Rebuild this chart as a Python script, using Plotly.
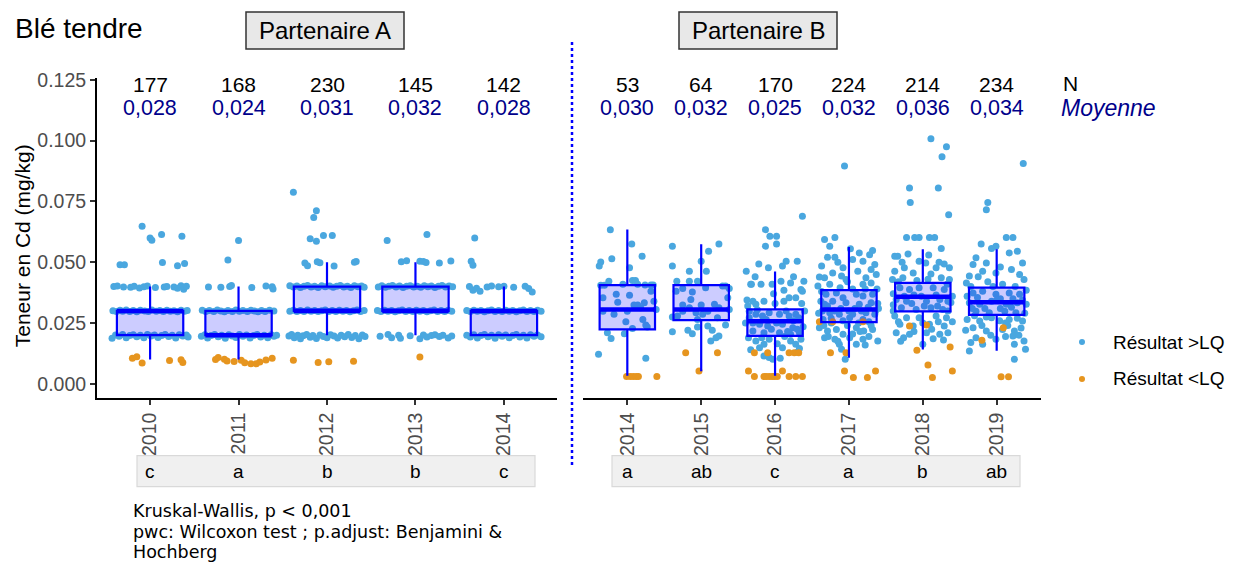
import plotly.graph_objects as go

W, H = 1234, 562
# the screenshot places page row p at about 7 + 0.987 * p; targets below are screen pixels
SHOT_TOP, SHOT_SCALE = 7.0, 0.9869

# ---- data ----
years_a = ["2010", "2011", "2012", "2013", "2014"]
years_b = ["2014", "2015", "2016", "2017", "2018", "2019"]
n_a = [177, 168, 230, 145, 142]
n_b = [53, 64, 170, 224, 214, 234]
mean_a = [0.028, 0.024, 0.031, 0.032, 0.028]
mean_b = [0.030, 0.032, 0.025, 0.032, 0.036, 0.034]
letters_a = ["c", "a", "b", "b", "c"]
letters_b = ["a", "ab", "c", "a", "b", "ab"]
caption_lines = ["Kruskal-Wallis, p < 0,001",
                 "pwc: Wilcoxon test ; p.adjust: Benjamini &",
                 "Hochberg"]

# box statistics (mg/kg)
q1_a = [0.020, 0.020, 0.030, 0.030, 0.020]
med_a = [0.030, 0.020, 0.030, 0.030, 0.030]
q3_a = [0.030, 0.030, 0.040, 0.040, 0.030]
lo_a = [0.010, 0.010, 0.020, 0.020, 0.020]
hi_a = [0.040, 0.040, 0.050, 0.050, 0.040]

q1_b = [0.0224, 0.0262, 0.0197, 0.0254, 0.0298, 0.0284]
med_b = [0.0306, 0.0306, 0.0257, 0.0306, 0.0358, 0.0336]
q3_b = [0.0406, 0.0406, 0.0306, 0.0385, 0.0415, 0.0396]
lo_b = [0.0033, 0.0052, 0.0033, 0.0107, 0.0141, 0.0136]
hi_b = [0.0635, 0.0574, 0.0462, 0.0563, 0.0553, 0.0553]

# individual results: (jitter offset from the year, value)
A2010_sup = [(-0.09, 0.0648), (0.0, 0.0600), (0.02, 0.0590), (0.13, 0.0614), (0.36, 0.0607),
             (-0.34, 0.0490), (-0.29, 0.0490), (0.14, 0.0499), (0.31, 0.0486), (0.39, 0.0495),
             (-0.41, 0.0400), (-0.37, 0.0402), (-0.30, 0.0398), (-0.22, 0.0397), (-0.18, 0.0401),
             (-0.12, 0.0394), (-0.07, 0.0399), (-0.03, 0.0402), (0.06, 0.0396), (0.16, 0.0398),
             (0.19, 0.0400), (0.27, 0.0398), (0.31, 0.0393), (0.35, 0.0403), (0.38, 0.0389), (0.41, 0.0401),
             (-0.42, 0.0301), (-0.38, 0.0297), (-0.34, 0.0303), (-0.31, 0.0299), (-0.27, 0.0304),
             (-0.23, 0.0298), (-0.19, 0.0302), (-0.15, 0.0296), (-0.11, 0.0303), (-0.06, 0.0300),
             (-0.02, 0.0297), (0.02, 0.0304), (0.07, 0.0299), (0.11, 0.0302), (0.15, 0.0297),
             (0.19, 0.0303), (0.23, 0.0299), (0.27, 0.0301), (0.31, 0.0296), (0.35, 0.0303),
             (0.39, 0.0299), (0.42, 0.0302),
             (-0.43, 0.0188), (-0.39, 0.0201), (-0.35, 0.0196), (-0.31, 0.0203), (-0.27, 0.0190),
             (-0.23, 0.0199), (-0.19, 0.0202), (-0.15, 0.0194), (-0.11, 0.0200), (-0.07, 0.0190),
             (-0.03, 0.0203), (0.01, 0.0197), (0.05, 0.0201), (0.09, 0.0191), (0.13, 0.0199),
             (0.17, 0.0203), (0.21, 0.0195), (0.25, 0.0200), (0.29, 0.0189), (0.33, 0.0202),
             (0.37, 0.0197), (0.41, 0.0201), (0.43, 0.0193)]
A2010_inf = [(-0.20, 0.0105), (-0.15, 0.0112), (-0.09, 0.0086), (0.22, 0.0096), (0.35, 0.0099), (0.37, 0.0088)]

A2011_sup = [(0.0, 0.0589), (-0.12, 0.0509),
             (-0.34, 0.0398), (-0.20, 0.0397), (-0.10, 0.0400), (-0.08, 0.0404), (0.15, 0.0396),
             (0.31, 0.0402), (0.38, 0.0399), (0.39, 0.0390),
             (-0.41, 0.0303), (-0.37, 0.0298), (-0.33, 0.0302), (-0.28, 0.0297), (-0.24, 0.0304),
             (-0.20, 0.0300), (-0.16, 0.0296), (-0.12, 0.0302), (-0.07, 0.0298), (-0.03, 0.0304),
             (0.01, 0.0299), (0.05, 0.0302), (0.10, 0.0297), (0.14, 0.0303), (0.18, 0.0300),
             (0.22, 0.0296), (0.26, 0.0302), (0.30, 0.0298), (0.35, 0.0303), (0.40, 0.0300),
             (-0.42, 0.0196), (-0.38, 0.0202), (-0.35, 0.0189), (-0.31, 0.0199), (-0.27, 0.0203),
             (-0.23, 0.0194), (-0.19, 0.0200), (-0.15, 0.0188), (-0.11, 0.0202), (-0.07, 0.0197),
             (-0.03, 0.0191), (0.01, 0.0203), (0.05, 0.0196), (0.09, 0.0201), (0.13, 0.0189),
             (0.17, 0.0199), (0.21, 0.0203), (0.25, 0.0193), (0.29, 0.0200), (0.33, 0.0190),
             (0.37, 0.0202), (0.40, 0.0196), (0.43, 0.0200)]
A2011_inf = [(-0.26, 0.0100), (-0.23, 0.0108), (-0.16, 0.0101), (-0.13, 0.0094), (-0.05, 0.0092),
             (0.03, 0.0097), (0.07, 0.0087), (0.14, 0.0083), (0.20, 0.0083), (0.24, 0.0090),
             (0.31, 0.0098), (0.38, 0.0105)]

A2012_sup = [(-0.38, 0.0788), (-0.12, 0.0712), (-0.15, 0.0684), (-0.19, 0.0597), (-0.12, 0.0586),
             (-0.04, 0.0610), (0.06, 0.0610),
             (-0.25, 0.0497), (-0.22, 0.0486), (-0.11, 0.0502), (-0.08, 0.0498), (0.08, 0.0484),
             (0.31, 0.0500), (0.33, 0.0503),
             (-0.42, 0.0403), (-0.38, 0.0398), (-0.34, 0.0402), (-0.30, 0.0396), (-0.26, 0.0401),
             (-0.22, 0.0404), (-0.18, 0.0398), (-0.14, 0.0401), (-0.10, 0.0396), (-0.06, 0.0403),
             (-0.02, 0.0399), (0.03, 0.0402), (0.07, 0.0397), (0.11, 0.0401), (0.15, 0.0404),
             (0.19, 0.0398), (0.23, 0.0401), (0.27, 0.0396), (0.31, 0.0403), (0.35, 0.0399),
             (0.39, 0.0402), (0.42, 0.0397),
             (-0.42, 0.0299), (-0.38, 0.0303), (-0.34, 0.0297), (-0.30, 0.0302), (-0.26, 0.0298),
             (-0.22, 0.0304), (-0.18, 0.0299), (-0.14, 0.0302), (-0.10, 0.0297), (-0.06, 0.0301),
             (-0.02, 0.0304), (0.02, 0.0298), (0.06, 0.0302), (0.10, 0.0297), (0.14, 0.0303),
             (0.18, 0.0299), (0.22, 0.0302), (0.26, 0.0296), (0.30, 0.0301), (0.34, 0.0304),
             (0.38, 0.0298), (0.42, 0.0302),
             (-0.43, 0.0197), (-0.40, 0.0203), (-0.37, 0.0190), (-0.33, 0.0200), (-0.30, 0.0186),
             (-0.27, 0.0198), (-0.23, 0.0203), (-0.19, 0.0192), (-0.16, 0.0199), (-0.12, 0.0187),
             (-0.08, 0.0201), (-0.04, 0.0195), (0.0, 0.0190), (0.04, 0.0202), (0.08, 0.0197),
             (0.12, 0.0189), (0.16, 0.0200), (0.20, 0.0194), (0.24, 0.0203), (0.28, 0.0191),
             (0.32, 0.0199), (0.36, 0.0186), (0.40, 0.0201), (0.43, 0.0195)]
A2012_inf = [(-0.38, 0.0097), (-0.10, 0.0088), (0.02, 0.0091), (0.30, 0.0093)]

A2013_sup = [(-0.32, 0.0589), (0.13, 0.0614),
             (-0.16, 0.0502), (-0.10, 0.0506), (0.05, 0.0504), (0.09, 0.0503), (0.12, 0.0499),
             (0.27, 0.0497), (0.40, 0.0505),
             (-0.42, 0.0398), (-0.38, 0.0403), (-0.34, 0.0397), (-0.30, 0.0401), (-0.26, 0.0404),
             (-0.22, 0.0398), (-0.18, 0.0402), (-0.14, 0.0396), (-0.10, 0.0401), (-0.06, 0.0403),
             (-0.02, 0.0398), (0.02, 0.0401), (0.06, 0.0397), (0.10, 0.0403), (0.14, 0.0399),
             (0.18, 0.0402), (0.22, 0.0396), (0.26, 0.0401), (0.30, 0.0404), (0.34, 0.0398),
             (0.38, 0.0402), (0.42, 0.0399),
             (-0.43, 0.0302), (-0.39, 0.0297), (-0.35, 0.0303), (-0.31, 0.0299), (-0.27, 0.0302),
             (-0.23, 0.0296), (-0.19, 0.0301), (-0.15, 0.0304), (-0.11, 0.0298), (-0.07, 0.0302),
             (-0.03, 0.0297), (0.01, 0.0303), (0.05, 0.0299), (0.09, 0.0302), (0.13, 0.0296),
             (0.17, 0.0301), (0.21, 0.0304), (0.25, 0.0298), (0.29, 0.0302), (0.33, 0.0297),
             (0.37, 0.0303), (0.41, 0.0299),
             (-0.40, 0.0196), (-0.31, 0.0203), (-0.27, 0.0190), (-0.19, 0.0200), (-0.17, 0.0188),
             (-0.06, 0.0198), (0.05, 0.0186), (0.09, 0.0201), (0.13, 0.0193), (0.18, 0.0199),
             (0.22, 0.0202), (0.27, 0.0195), (0.31, 0.0200), (0.37, 0.0189), (0.41, 0.0197)]
A2013_inf = [(0.05, 0.0111)]

A2014_sup = [(-0.33, 0.0600), (-0.37, 0.0504), (-0.35, 0.0488),
             (-0.39, 0.0400), (-0.35, 0.0385), (-0.31, 0.0393), (-0.27, 0.0381), (-0.19, 0.0398),
             (-0.14, 0.0402), (-0.06, 0.0399), (0.0, 0.0401), (0.11, 0.0397), (0.24, 0.0401),
             (0.28, 0.0392), (0.32, 0.0378),
             (-0.42, 0.0302), (-0.38, 0.0297), (-0.34, 0.0303), (-0.30, 0.0299), (-0.26, 0.0302),
             (-0.22, 0.0296), (-0.18, 0.0301), (-0.14, 0.0304), (-0.10, 0.0298), (-0.06, 0.0302),
             (-0.02, 0.0297), (0.02, 0.0303), (0.06, 0.0299), (0.10, 0.0302), (0.14, 0.0296),
             (0.18, 0.0301), (0.22, 0.0304), (0.26, 0.0298), (0.30, 0.0302), (0.34, 0.0297),
             (0.38, 0.0303), (0.42, 0.0299),
             (-0.42, 0.0200), (-0.38, 0.0193), (-0.34, 0.0202), (-0.30, 0.0189), (-0.26, 0.0199),
             (-0.22, 0.0203), (-0.18, 0.0194), (-0.14, 0.0200), (-0.10, 0.0188), (-0.06, 0.0202),
             (-0.02, 0.0196), (0.02, 0.0201), (0.06, 0.0190), (0.10, 0.0199), (0.14, 0.0203),
             (0.18, 0.0193), (0.22, 0.0200), (0.26, 0.0189), (0.30, 0.0202), (0.34, 0.0196),
             (0.38, 0.0201), (0.42, 0.0194)]
A2014_inf = []

B2014_sup = [(-0.23, 0.0634), (0.06, 0.0575), (0.20, 0.0525), (-0.36, 0.0501), (-0.38, 0.0484),
             (-0.21, 0.0514), (0.03, 0.0477), (-0.25, 0.0422), (0.07, 0.0425), (0.11, 0.0425),
             (0.24, 0.0406), (0.32, 0.0406), (0.35, 0.0406), (-0.36, 0.0405), (-0.31, 0.0405),
             (0.32, 0.0381), (0.03, 0.0364), (-0.13, 0.0336), (0.23, 0.0333), (0.09, 0.0324),
             (0.14, 0.0324), (0.39, 0.0306), (-0.18, 0.0286), (0.0, 0.0299), (0.18, 0.0313),
             (-0.02, 0.0255), (0.25, 0.0242), (0.27, 0.0234), (0.07, 0.0228), (-0.27, 0.0210),
             (-0.04, 0.0206), (-0.22, 0.0187), (-0.39, 0.0122), (0.25, 0.0105),
             (-0.33, 0.0299), (-0.15, 0.0368), (0.21, 0.0265), (0.36, 0.0340), (-0.33, 0.0354),
             (-0.06, 0.0409), (0.14, 0.0409)]
B2014_inf = [(-0.01, 0.0030), (0.04, 0.0030), (0.08, 0.0030), (0.12, 0.0030), (0.15, 0.0030), (0.40, 0.0030)]

B2015_sup = [(-0.39, 0.0566), (0.24, 0.0575), (0.10, 0.0545), (-0.39, 0.0484), (-0.16, 0.0463),
             (0.0, 0.0504), (0.07, 0.0463), (-0.33, 0.0422), (-0.16, 0.0422), (-0.05, 0.0422),
             (0.29, 0.0402), (0.33, 0.0402), (-0.34, 0.0381), (-0.12, 0.0378), (0.06, 0.0395),
             (-0.14, 0.0347), (0.36, 0.0354), (-0.25, 0.0324), (0.0, 0.0324), (0.18, 0.0327),
             (0.24, 0.0313), (-0.32, 0.0279), (-0.07, 0.0292), (0.02, 0.0286), (0.38, 0.0306),
             (-0.39, 0.0275), (-0.05, 0.0234), (0.09, 0.0238), (0.15, 0.0220), (-0.18, 0.0220),
             (-0.39, 0.0214), (-0.12, 0.0206), (0.24, 0.0197), (0.20, 0.0190), (0.13, 0.0176),
             (0.33, 0.0242), (-0.05, 0.0265),
             (-0.25, 0.0392), (0.38, 0.0392), (-0.16, 0.0313), (0.09, 0.0299), (0.22, 0.0272),
             (-0.25, 0.0299)]
B2015_inf = [(-0.21, 0.0128), (0.22, 0.0128), (-0.03, 0.0053)]

B2016_sup = [(0.37, 0.0689), (-0.13, 0.0634), (-0.07, 0.0607), (0.02, 0.0607), (-0.13, 0.0566),
             (0.02, 0.0575), (-0.22, 0.0493), (-0.39, 0.0463), (-0.09, 0.0477), (0.15, 0.0504),
             (0.10, 0.0484), (0.30, 0.0504), (-0.32, 0.0409), (-0.19, 0.0409), (-0.04, 0.0409),
             (0.08, 0.0422), (0.21, 0.0415), (0.35, 0.0388), (0.39, 0.0422), (-0.30, 0.0340),
             (-0.26, 0.0327), (-0.15, 0.0340), (0.12, 0.0340), (0.19, 0.0354), (0.28, 0.0354),
             (0.37, 0.0381), (-0.35, 0.0299), (-0.35, 0.0272), (0.32, 0.0272),
             (-0.26, 0.0286), (-0.17, 0.0279), (-0.08, 0.0292), (0.06, 0.0286), (0.19, 0.0279),
             (0.28, 0.0286), (-0.21, 0.0245), (-0.10, 0.0238), (0.10, 0.0245), (0.24, 0.0231),
             (-0.30, 0.0217), (-0.15, 0.0210), (0.06, 0.0210), (0.21, 0.0204), (0.33, 0.0210),
             (-0.26, 0.0176), (-0.15, 0.0163), (-0.08, 0.0183), (0.21, 0.0176), (0.28, 0.0163),
             (0.35, 0.0183), (-0.21, 0.0149), (0.10, 0.0149), (-0.15, 0.0115), (-0.08, 0.0108),
             (0.07, 0.0105), (-0.03, 0.0101),
             (-0.37, 0.0320), (0.40, 0.0300), (-0.40, 0.0250), (0.38, 0.0235), (-0.36, 0.0190),
             (0.30, 0.0130), (-0.33, 0.0140), (0.0, 0.0330),
             (-0.38, 0.0345), (-0.24, 0.0305), (-0.12, 0.0265), (0.02, 0.0250), (0.15, 0.0300),
             (0.25, 0.0260), (0.36, 0.0330), (-0.30, 0.0250), (-0.05, 0.0225), (0.13, 0.0195),
             (0.30, 0.0225), (-0.18, 0.0190), (0.03, 0.0165), (0.17, 0.0215), (-0.33, 0.0410),
             (0.25, 0.0440), (-0.02, 0.0370), (0.12, 0.0385), (-0.27, 0.0440), (0.33, 0.0145)]
B2016_inf = [(-0.28, 0.0128), (-0.10, 0.0128), (0.19, 0.0128), (0.26, 0.0128), (0.32, 0.0128),
             (-0.36, 0.0053), (0.10, 0.0053),
             (-0.28, 0.0030), (-0.15, 0.0030), (-0.12, 0.0030), (-0.08, 0.0030), (-0.04, 0.0030),
             (-0.01, 0.0030), (0.03, 0.0030), (0.19, 0.0030), (0.28, 0.0030), (0.37, 0.0030)]

B2017_sup = [(-0.06, 0.0896), (-0.33, 0.0593), (-0.19, 0.0602), (-0.26, 0.0566), (0.32, 0.0548),
             (0.28, 0.0531), (0.14, 0.0538), (-0.29, 0.0520), (-0.19, 0.0520), (-0.37, 0.0484),
             (0.05, 0.0511), (0.35, 0.0491), (0.19, 0.0504), (-0.08, 0.0477), (0.12, 0.0463),
             (-0.22, 0.0456), (-0.40, 0.0439), (-0.33, 0.0436), (-0.10, 0.0443), (-0.04, 0.0429),
             (0.23, 0.0436), (0.37, 0.0450), (0.30, 0.0415), (0.19, 0.0409), (-0.26, 0.0409),
             (-0.42, 0.0402),
             (-0.31, 0.0368), (-0.17, 0.0374), (-0.08, 0.0354), (0.10, 0.0368), (0.19, 0.0361),
             (0.32, 0.0368), (-0.33, 0.0327), (-0.22, 0.0340), (-0.04, 0.0333), (0.14, 0.0327),
             (0.30, 0.0333), (-0.26, 0.0292), (-0.13, 0.0286), (0.05, 0.0286), (0.23, 0.0292),
             (0.35, 0.0286), (-0.35, 0.0265), (0.01, 0.0272), (0.19, 0.0265),
             (-0.40, 0.0231), (-0.29, 0.0217), (-0.17, 0.0224), (-0.08, 0.0204), (0.10, 0.0231),
             (0.20, 0.0217), (0.32, 0.0224), (-0.33, 0.0190), (-0.19, 0.0183), (0.01, 0.0190),
             (0.19, 0.0183), (0.39, 0.0176), (-0.13, 0.0163), (0.10, 0.0163),
             (-0.10, 0.0142), (-0.05, 0.0101),
             (-0.38, 0.0340), (0.40, 0.0310), (-0.12, 0.0395), (0.05, 0.0390), (0.27, 0.0255),
             (-0.24, 0.0250), (0.38, 0.0390), (-0.41, 0.0290),
             (-0.36, 0.0300), (-0.29, 0.0320), (-0.20, 0.0300), (-0.11, 0.0310), (0.0, 0.0300),
             (0.08, 0.0310), (0.17, 0.0300), (0.26, 0.0315), (0.36, 0.0300), (-0.34, 0.0240),
             (-0.24, 0.0270), (-0.02, 0.0240), (0.13, 0.0250), (0.30, 0.0240), (-0.28, 0.0195),
             (0.05, 0.0205), (0.27, 0.0195), (-0.15, 0.0175), (0.22, 0.0160), (-0.37, 0.0380),
             (0.22, 0.0390), (-0.02, 0.0420), (0.30, 0.0470), (-0.15, 0.0500), (0.02, 0.0555),
             (0.39, 0.0330), (-0.08, 0.0260), (0.15, 0.0215)]
B2017_inf = [(-0.40, 0.0255), (-0.22, 0.0255), (0.19, 0.0255), (-0.25, 0.0128), (-0.04, 0.0128),
             (-0.06, 0.0053), (0.36, 0.0053), (0.06, 0.0026), (0.25, 0.0026)]

B2018_sup = [(0.11, 0.1007), (0.32, 0.0975), (0.26, 0.0934), (-0.18, 0.0805), (0.21, 0.0805),
             (-0.17, 0.0746), (0.35, 0.0695), (-0.22, 0.0602), (-0.11, 0.0602), (-0.05, 0.0602),
             (0.09, 0.0602), (0.16, 0.0602), (0.25, 0.0556), (-0.38, 0.0525), (-0.34, 0.0525),
             (-0.20, 0.0534), (-0.05, 0.0504), (0.04, 0.0497), (0.29, 0.0493), (-0.25, 0.0477),
             (0.18, 0.0477), (0.36, 0.0477), (-0.38, 0.0463), (-0.13, 0.0456), (0.11, 0.0452),
             (0.25, 0.0436), (0.36, 0.0429), (-0.41, 0.0429), (-0.27, 0.0436),
             (-0.31, 0.0395), (-0.18, 0.0388), (-0.05, 0.0395), (0.14, 0.0395), (0.29, 0.0388),
             (-0.36, 0.0347), (-0.22, 0.0340), (0.05, 0.0340), (0.23, 0.0347), (0.34, 0.0340),
             (-0.29, 0.0313), (-0.09, 0.0306), (0.11, 0.0313), (0.27, 0.0306),
             (-0.38, 0.0279), (-0.22, 0.0272), (-0.05, 0.0272), (0.18, 0.0279), (0.32, 0.0272),
             (-0.31, 0.0245), (-0.13, 0.0238), (0.09, 0.0245), (0.29, 0.0238), (-0.36, 0.0210),
             (-0.18, 0.0204), (0.05, 0.0210), (0.23, 0.0204), (0.34, 0.0210), (0.0, 0.0163),
             (-0.40, 0.0370), (0.40, 0.0360), (-0.12, 0.0365), (0.20, 0.0320), (-0.40, 0.0300),
             (0.40, 0.0255), (-0.26, 0.0190), (0.14, 0.0185),
             (-0.33, 0.0420), (-0.08, 0.0425), (0.07, 0.0430), (0.33, 0.0410), (-0.25, 0.0360),
             (-0.02, 0.0360), (0.18, 0.0365), (0.38, 0.0335), (-0.40, 0.0325), (-0.15, 0.0330),
             (0.02, 0.0320), (0.34, 0.0300), (-0.33, 0.0255), (0.0, 0.0250), (0.21, 0.0255),
             (-0.12, 0.0215), (0.12, 0.0225), (-0.30, 0.0175), (0.28, 0.0180), (0.22, 0.0500),
             (-0.28, 0.0500), (0.08, 0.0530)]
B2018_inf = [(-0.18, 0.0238), (0.05, 0.0242), (-0.08, 0.0138), (0.37, 0.0152), (0.07, 0.0078),
             (0.13, 0.0026), (0.40, 0.0053)]

B2019_sup = [(0.36, 0.0906), (-0.12, 0.0746), (-0.14, 0.0716), (0.13, 0.0602), (0.22, 0.0602),
             (-0.21, 0.0575), (-0.07, 0.0556), (-0.01, 0.0566), (0.17, 0.0538), (0.28, 0.0545),
             (-0.32, 0.0491), (-0.28, 0.0518), (-0.14, 0.0497), (0.35, 0.0497), (-0.37, 0.0443),
             (-0.19, 0.0463), (-0.01, 0.0456), (0.20, 0.0470), (0.31, 0.0450), (-0.41, 0.0415),
             (0.37, 0.0429),
             (-0.32, 0.0374), (-0.19, 0.0381), (-0.01, 0.0368), (0.17, 0.0374), (0.31, 0.0368),
             (-0.37, 0.0333), (-0.23, 0.0327), (-0.07, 0.0340), (0.13, 0.0327), (0.28, 0.0333),
             (0.40, 0.0327), (-0.28, 0.0299), (-0.10, 0.0292), (0.11, 0.0299), (0.26, 0.0292),
             (-0.40, 0.0265), (-0.23, 0.0258), (-0.07, 0.0272), (0.17, 0.0265), (0.35, 0.0258),
             (-0.32, 0.0231), (-0.14, 0.0217), (0.08, 0.0224), (0.24, 0.0217), (-0.28, 0.0190),
             (-0.01, 0.0183), (0.22, 0.0197), (0.37, 0.0176), (-0.37, 0.0135), (0.24, 0.0163),
             (0.39, 0.0142), (-0.19, 0.0163), (0.24, 0.0101),
             (-0.40, 0.0360), (0.40, 0.0385), (0.05, 0.0350), (-0.16, 0.0310), (0.38, 0.0290),
             (-0.42, 0.0220), (0.12, 0.0250), (-0.05, 0.0400),
             (-0.35, 0.0400), (-0.12, 0.0420), (0.08, 0.0410), (0.25, 0.0400), (-0.26, 0.0355),
             (0.00, 0.0345), (0.22, 0.0350), (0.35, 0.0345), (-0.33, 0.0310), (0.05, 0.0310),
             (0.20, 0.0315), (-0.30, 0.0280), (-0.14, 0.0275), (0.04, 0.0260), (0.28, 0.0270),
             (-0.20, 0.0240), (0.15, 0.0240), (0.33, 0.0230), (-0.08, 0.0200), (0.12, 0.0195),
             (-0.35, 0.0170), (0.30, 0.0200), (0.05, 0.0480), (-0.25, 0.0440)]
B2019_inf = [(0.09, 0.0231), (-0.20, 0.0179), (0.06, 0.0029), (0.16, 0.0029)]

groups_a = [A2010_sup, A2011_sup, A2012_sup, A2013_sup, A2014_sup]
groups_a_inf = [A2010_inf, A2011_inf, A2012_inf, A2013_inf, A2014_inf]
groups_b = [B2014_sup, B2015_sup, B2016_sup, B2017_sup, B2018_sup, B2019_sup]
groups_b_inf = [B2014_inf, B2015_inf, B2016_inf, B2017_inf, B2018_inf, B2019_inf]

SUP_COL = "#4aa7df"
INF_COL = "#e6951f"
FONT = "Liberation Sans, Arial, sans-serif"


def px(x):
    return x / W


def py(y):
    return 1 - ((y - SHOT_TOP) / SHOT_SCALE) / H


def flatten(groups):
    xs, ys = [], []
    for i, pts in enumerate(groups):
        for dx, v in pts:
            xs.append(i + 1 + dx)
            ys.append(v)
    return xs, ys


def label(x, y, text, size, color="black", xanchor="center", xref="paper", yref="paper",
          family=FONT, **kw):
    return dict(x=x, y=y, xref=xref, yref=yref, text=text, showarrow=False, xanchor=xanchor,
                yanchor="middle", font=dict(family=family, size=size, color=color), **kw)


fig = go.Figure()

# points (drawn first, under the boxes)
for groups, inf, xa, ya in [(groups_a, groups_a_inf, "x", "y"), (groups_b, groups_b_inf, "x2", "y2")]:
    xs, ys = flatten(groups)
    fig.add_trace(go.Scatter(x=xs, y=ys, mode="markers", xaxis=xa, yaxis=ya,
                             marker=dict(size=7, color=SUP_COL), showlegend=False))
    xs, ys = flatten(inf)
    fig.add_trace(go.Scatter(x=xs, y=ys, mode="markers", xaxis=xa, yaxis=ya,
                             marker=dict(size=7, color=INF_COL), showlegend=False))

# boxes on overlaid axes so that they sit above the points
for q1, med, q3, lo, hi, xa, ya in [(q1_a, med_a, q3_a, lo_a, hi_a, "x3", "y"),
                                     (q1_b, med_b, q3_b, lo_b, hi_b, "x4", "y2")]:
    xs = list(range(1, len(q1) + 1))
    fig.add_trace(go.Box(x=xs, q1=q1, median=med, q3=q3, lowerfence=lo, upperfence=hi,
                         xaxis=xa, yaxis=ya, width=0.75, whiskerwidth=0, boxpoints=False,
                         fillcolor="rgba(0,0,255,0.2)", line=dict(color="#0000ff", width=2.2),
                         showlegend=False, hoverinfo="skip"))
    fig.add_trace(go.Box(x=xs, q1=med, median=med, q3=med, lowerfence=med, upperfence=med,
                         xaxis=xa, yaxis=ya, width=0.75, whiskerwidth=0, boxpoints=False,
                         fillcolor="rgba(0,0,0,0)", line=dict(color="#0000ff", width=4.5),
                         showlegend=False, hoverinfo="skip"))

y_rng = [-0.00574, 0.1258]
y_dom = [py(397), py(76)]
axis_common = dict(showgrid=False, zeroline=False, showline=True, linecolor="black", linewidth=2,
                   ticks="outside", ticklen=5, tickwidth=1.5, tickcolor="#333333",
                   tickfont=dict(family=FONT, size=19.5, color="#4d4d4d"))

fig.update_layout(
    width=W, height=H, margin=dict(l=0, r=0, t=0, b=0),
    paper_bgcolor="white", plot_bgcolor="rgba(0,0,0,0)",
    boxmode="overlay",
    xaxis=dict(domain=[px(97), px(557)], range=[0.4, 5.6], tickvals=[1, 2, 3, 4, 5],
               ticktext=years_a, tickangle=-90, anchor="y", **axis_common),
    yaxis=dict(domain=y_dom, range=y_rng, tickvals=[0, 0.025, 0.05, 0.075, 0.1, 0.125],
               ticktext=["0.000", "0.025", "0.050", "0.075", "0.100", "0.125"], anchor="x",
               **axis_common),
    xaxis2=dict(domain=[px(583), px(1041)], range=[0.4, 6.6], tickvals=[1, 2, 3, 4, 5, 6],
                ticktext=years_b, tickangle=-90, anchor="y2", **axis_common),
    yaxis2=dict(domain=y_dom, range=y_rng, visible=False, anchor="x2"),
    xaxis3=dict(overlaying="x", range=[0.4, 5.6], visible=False),
    xaxis4=dict(overlaying="x2", range=[0.4, 6.6], visible=False),
)

ann = []
shapes = []

# N and mean above each year
for xa, ya, ns, means in [("x", "y", n_a, mean_a), ("x2", "y2", n_b, mean_b)]:
    for i, (n, m) in enumerate(zip(ns, means)):
        ann.append(label(i + 1, 0.1232, str(n), 21, xref=xa, yref=ya))
        ann.append(label(i + 1, 0.1133, f"{m:.3f}".replace(".", ","), 21.5, "#00008b", xref=xa, yref=ya))
ann.append(label(px(1061), py(82), "N", 21, xanchor="left"))
ann.append(label(px(1059), py(106), "<i>Moyenne</i>", 23, "#00008b", xanchor="left"))

# title and y title
ann.append(label(px(13), py(27), "Blé tendre", 28, xanchor="left"))
ann.append(label(px(22), py(245), "Teneur en Cd (mg/kg)", 21, textangle=-90))

# facet strips
for x0, x1, txt in [(246, 404, "Partenaire A"), (679, 837, "Partenaire B")]:
    shapes.append(dict(type="rect", xref="paper", yref="paper", x0=px(x0), x1=px(x1), y0=py(47), y1=py(10),
                       fillcolor="#e8e8e8", line=dict(color="#333333", width=1.5)))
    ann.append(label(px((x0 + x1) / 2), py(29), txt, 24))

# letters strips
for x0, x1, xa, letters in [(137, 535, "x", letters_a), (612, 1020, "x2", letters_b)]:
    shapes.append(dict(type="rect", xref="paper", yref="paper", x0=px(x0), x1=px(x1), y0=py(486), y1=py(455),
                       fillcolor="#f0f0f0", line=dict(color="#d9d9d9", width=1.2)))
    for i, l in enumerate(letters):
        ann.append(label(i + 1, py(471), l, 19, xref=xa))

# separator
shapes.append(dict(type="line", xref="paper", yref="paper", x0=px(572), x1=px(572), y0=py(40), y1=py(467),
                   line=dict(color="#0000ff", width=2.5, dash="dot")))

# legend
for yy, col, txt in [(341, SUP_COL, "Résultat >LQ"), (378, INF_COL, "Résultat <LQ")]:
    shapes.append(dict(type="circle", xref="paper", yref="paper", x0=px(1079), x1=px(1085),
                       y0=py(yy + 3), y1=py(yy - 3), fillcolor=col, line=dict(width=0)))
    ann.append(label(px(1111), py(yy), txt, 19, xanchor="left"))

# caption, one annotation per line
for yy, txt in zip([510, 532, 552], caption_lines):
    ann.append(label(px(131), py(yy), txt, 17.5, xanchor="left",
                     family="DejaVu Sans, Verdana, sans-serif"))

fig.update_layout(annotations=ann, shapes=shapes)

fig.write_html("out.html", config={"displayModeBar": False},
               post_script="document.body.style.margin='0';")
